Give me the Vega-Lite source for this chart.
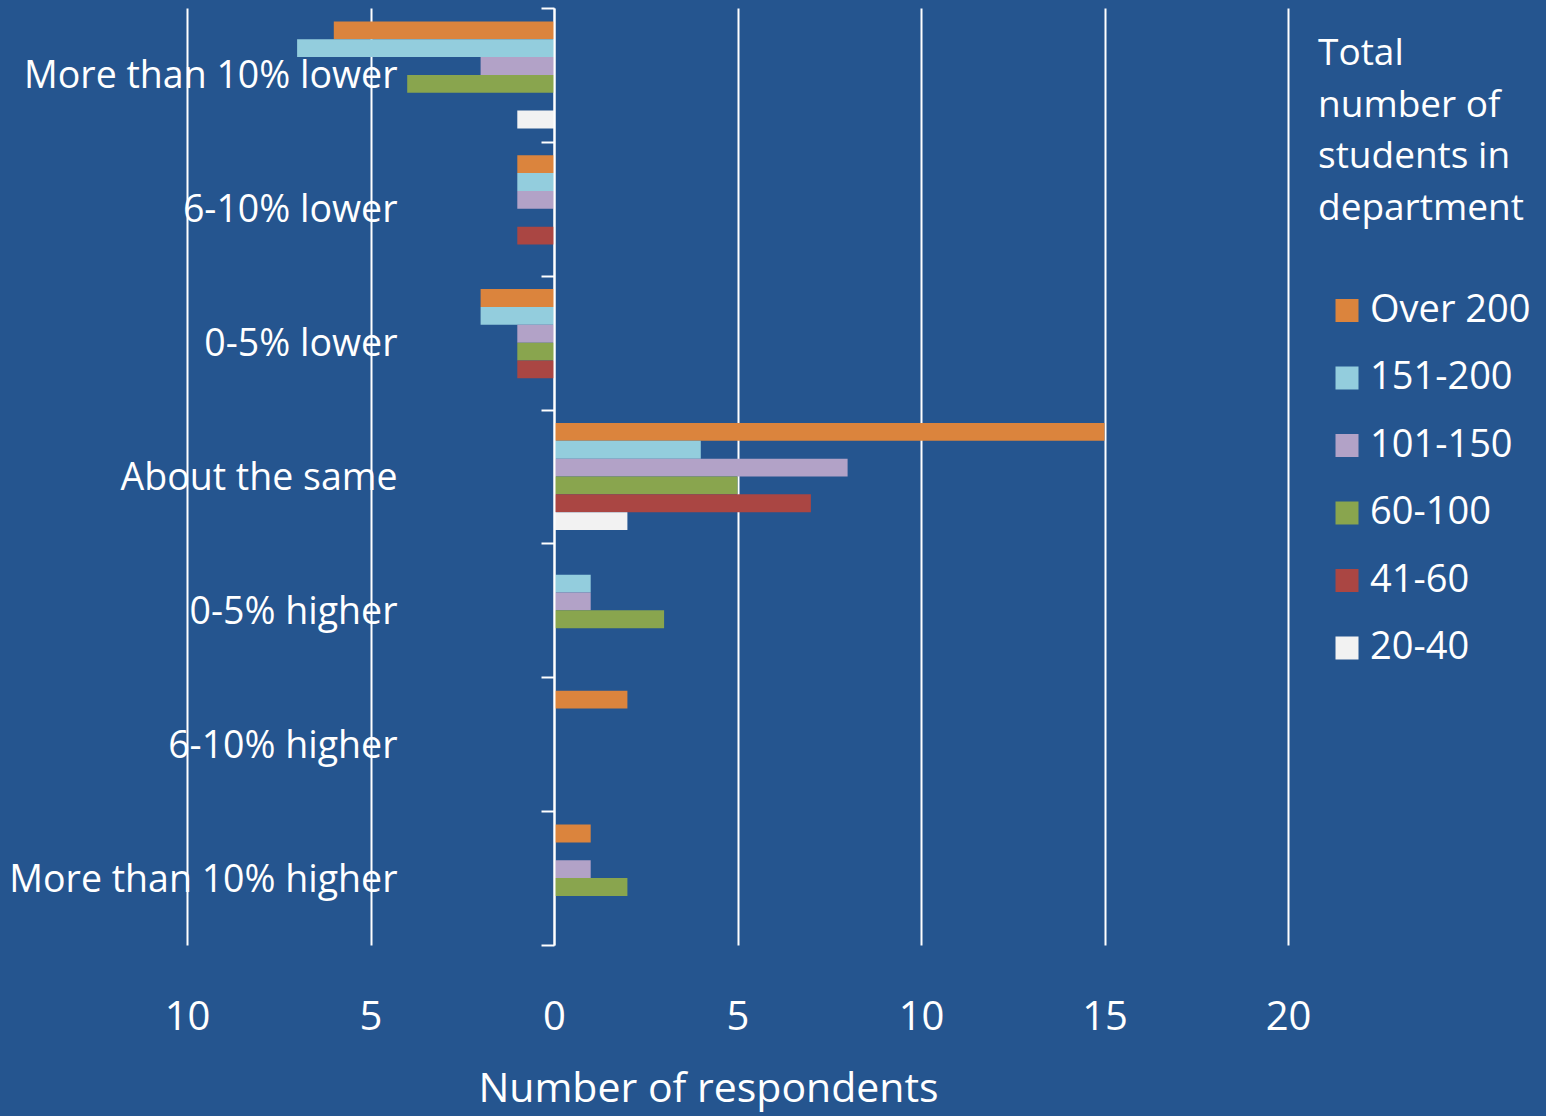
{
  "$schema": "https://vega.github.io/schema/vega-lite/v6.json",
  "autosize": "none",
  "width": 1101,
  "height": 937,
  "padding": {"left": 187, "top": 8, "right": 258, "bottom": 171},
  "background": "#25558F",
  "config": {
    "view": {"stroke": null},
    "font": "Open Sans"
  },
  "data": {
    "values": [
      {"change": "More than 10% lower", "size": "Over 200", "value": -6},
      {"change": "More than 10% lower", "size": "151-200", "value": -7},
      {"change": "More than 10% lower", "size": "101-150", "value": -2},
      {"change": "More than 10% lower", "size": "60-100", "value": -4},
      {"change": "More than 10% lower", "size": "20-40", "value": -1},
      {"change": "6-10% lower", "size": "Over 200", "value": -1},
      {"change": "6-10% lower", "size": "151-200", "value": -1},
      {"change": "6-10% lower", "size": "101-150", "value": -1},
      {"change": "6-10% lower", "size": "41-60", "value": -1},
      {"change": "0-5% lower", "size": "Over 200", "value": -2},
      {"change": "0-5% lower", "size": "151-200", "value": -2},
      {"change": "0-5% lower", "size": "101-150", "value": -1},
      {"change": "0-5% lower", "size": "60-100", "value": -1},
      {"change": "0-5% lower", "size": "41-60", "value": -1},
      {"change": "About the same", "size": "Over 200", "value": 15},
      {"change": "About the same", "size": "151-200", "value": 4},
      {"change": "About the same", "size": "101-150", "value": 8},
      {"change": "About the same", "size": "60-100", "value": 5},
      {"change": "About the same", "size": "41-60", "value": 7},
      {"change": "About the same", "size": "20-40", "value": 2},
      {"change": "0-5% higher", "size": "151-200", "value": 1},
      {"change": "0-5% higher", "size": "101-150", "value": 1},
      {"change": "0-5% higher", "size": "60-100", "value": 3},
      {"change": "6-10% higher", "size": "Over 200", "value": 2},
      {"change": "More than 10% higher", "size": "Over 200", "value": 1},
      {"change": "More than 10% higher", "size": "101-150", "value": 1},
      {"change": "More than 10% higher", "size": "60-100", "value": 2}
    ]
  },
  "mark": {"type": "bar"},
  "encoding": {
    "y": {
      "field": "change",
      "type": "nominal",
      "sort": ["More than 10% lower", "6-10% lower", "0-5% lower", "About the same", "0-5% higher", "6-10% higher", "More than 10% higher"],
      "scale": {"paddingInner": 0, "paddingOuter": 0},
      "axis": {
        "title": null,
        "offset": -367,
        "domainColor": "white",
        "domainWidth": 2,
        "tickColor": "white",
        "tickWidth": 2,
        "tickSize": 13,
        "tickBand": "extent",
        "labelColor": "white",
        "labelFontSize": 37.5,
        "labelPadding": 144,
        "labelAlign": "right",
        "labelBaseline": "middle",
        "labelOffset": 2,
        "labelLimit": 0,
        "grid": false,
        "zindex": 1
      }
    },
    "yOffset": {
      "field": "size",
      "type": "nominal",
      "sort": ["Over 200", "151-200", "101-150", "60-100", "41-60", "20-40"],
      "scale": {"domain": ["Over 200", "151-200", "101-150", "60-100", "41-60", "20-40"], "paddingInner": 0, "paddingOuter": 0.75}
    },
    "x": {
      "field": "value",
      "type": "quantitative",
      "scale": {"domain": [-10, 20], "nice": false, "zero": false},
      "axis": {
        "values": [-10, -5, 0, 5, 10, 15, 20],
        "labelExpr": "abs(datum.value)",
        "labelFlush": false,
        "labelOverlap": false,
        "domain": false,
        "ticks": false,
        "grid": true,
        "gridColor": "white",
        "gridWidth": 2,
        "gridOpacity": 1,
        "labelColor": "white",
        "labelFontSize": 40,
        "labelPadding": 52,
        "title": "Number of respondents",
        "titleColor": "white",
        "titleFontSize": 41,
        "titleFontWeight": "normal",
        "titleX": 521,
        "titleY": 124,
        "titleBaseline": "top",
        "titleAnchor": "middle",
        "titleAlign": "center"
      }
    },
    "color": {
      "field": "size",
      "type": "nominal",
      "scale": {
        "domain": ["Over 200", "151-200", "101-150", "60-100", "41-60", "20-40"],
        "range": ["#DB843D", "#93CDDD", "#B2A2C7", "#89A54E", "#AA4643", "#F2F2F2"]
      },
      "legend": {
        "title": ["Total", "number of", "students in", "department"],
        "orient": "none",
        "legendX": 1131,
        "legendY": 28,
        "titleColor": "white",
        "titleFontSize": 37,
        "titleFontWeight": "normal",
        "titleLineHeight": 51.5,
        "titleLimit": 0,
        "titlePadding": 64,
        "symbolType": "square",
        "symbolSize": 529,
        "symbolStrokeWidth": 0,
        "symbolOpacity": 1,
        "symbolOffset": 10,
        "labelColor": "white",
        "labelFontSize": 38,
        "labelOffset": 4,
        "labelLimit": 0,
        "rowPadding": 29.5,
        "padding": 0
      }
    }
  }
}
